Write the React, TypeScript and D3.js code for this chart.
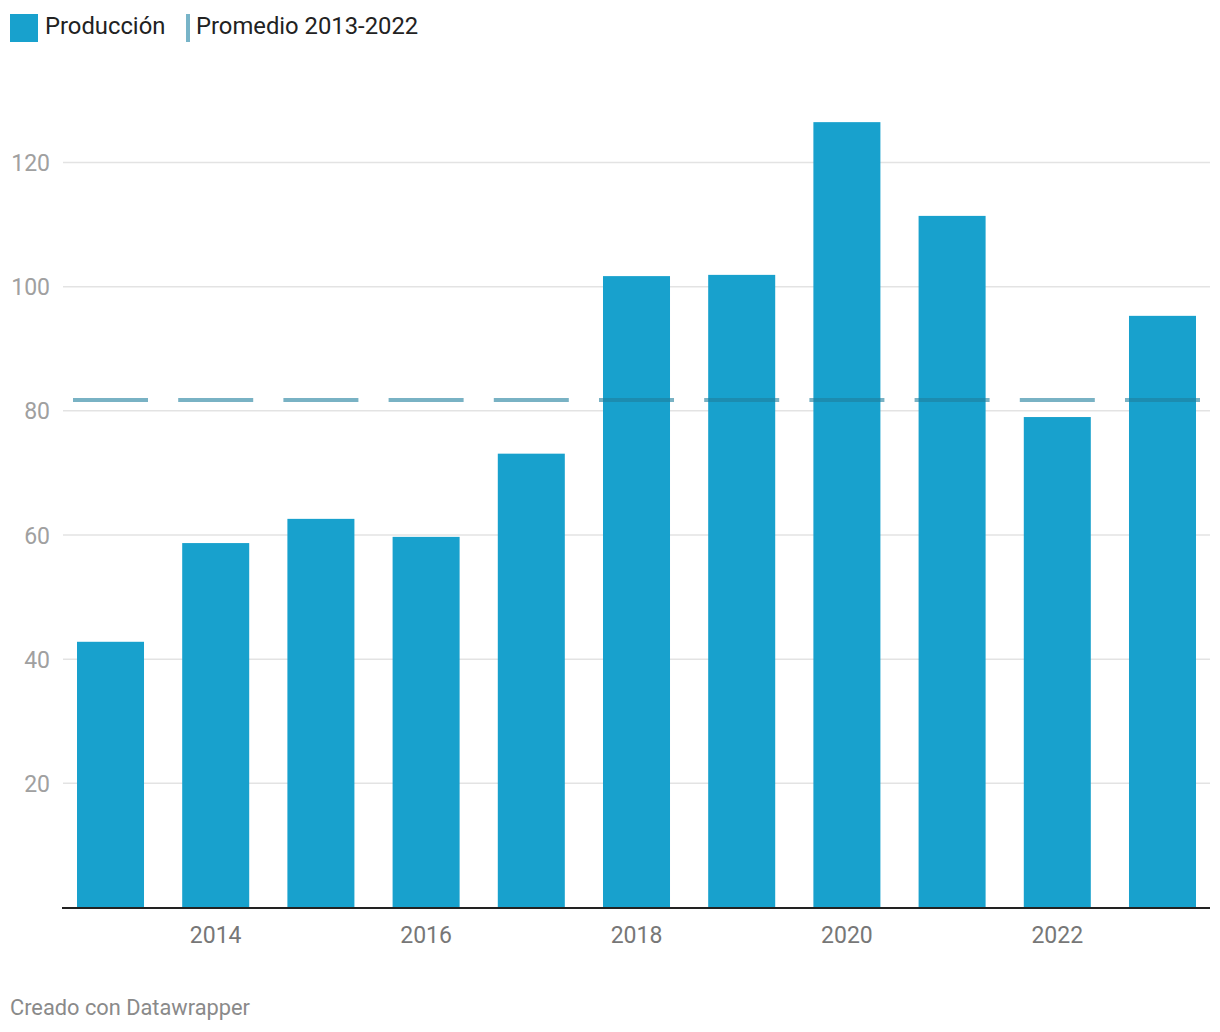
import React from "react";
import * as d3 from "d3";

const years = ["2013", "2014", "2015", "2016", "2017", "2018", "2019", "2020", "2021", "2022", "2023"];
const production = [42.8, 58.7, 62.6, 59.7, 73.1, 101.7, 101.9, 126.5, 111.4, 79.0, 95.3];
const avgYears = ["2013", "2014", "2015", "2016", "2017", "2018", "2019", "2020", "2021", "2022"];
const yTicks = [20, 40, 60, 80, 100, 120];
const xTickLabels = ["2014", "2016", "2018", "2020", "2022"];
const legendLabels = ["Producción", "Promedio 2013-2022"];
const footer = "Creado con Datawrapper";

const W = 1220;
const H = 1032;
const FONT = "Roboto, 'Noto Sans', sans-serif";
const BAR = "#18a1cd";

export default function App() {
  const x = d3.scaleBand<string>().domain(years).range([77, 1196]).paddingInner(0.363).paddingOuter(0);
  const y = d3.scaleLinear().domain([0, 120]).range([907.5, 162.5]);
  const bw = x.bandwidth();
  const step = x.step();
  const avg = d3.mean(avgYears.map((yr) => production[years.indexOf(yr)])) as number;
  const lx0 = (x(years[0]) as number) - 4;
  const lx1 = (x(years[years.length - 1]) as number) + bw + 4;
  const dash = bw + 8;

  return (
    <svg width={W} height={H} style={{ position: "absolute", left: 0, top: 0, background: "#fff" }} fontFamily={FONT}>
      {/* legend */}
      <rect x={10} y={14} width={28} height={28} fill={BAR} />
      <text x={45} y={34} fontSize={23.8} fill="#222">{legendLabels[0]}</text>
      <rect x={186} y={14} width={4} height={28} fill="#78b4c8" />
      <text x={196} y={34} fontSize={23.8} fill="#222">{legendLabels[1]}</text>

      {/* gridlines & y labels */}
      {yTicks.map((t) => (
        <g key={t}>
          <line x1={63} x2={1210} y1={y(t)} y2={y(t)} stroke="#e3e3e3" strokeWidth={1.5} />
          <text x={50} y={y(t)} dy="0.37em" textAnchor="end" fontSize={23} fill="#a0a0a0">{t}</text>
        </g>
      ))}

      {/* bars */}
      {years.map((yr, i) => (
        <rect key={yr} x={x(yr)} y={y(production[i])} width={bw} height={y(0) - y(production[i])} fill={BAR} />
      ))}

      {/* average dashed line */}
      <line
        x1={lx0}
        x2={lx1}
        y1={y(avg)}
        y2={y(avg)}
        stroke="#1f7f9d"
        strokeOpacity={0.6}
        strokeWidth={4}
        strokeDasharray={`${dash} ${step - dash}`}
      />

      {/* x axis */}
      <line x1={62} x2={1210} y1={908} y2={908} stroke="#222" strokeWidth={2} />
      {xTickLabels.map((l) => (
        <text key={l} x={(x(l) as number) + bw / 2} y={943} textAnchor="middle" fontSize={23} fill="#777">{l}</text>
      ))}

      <text x={10} y={1015} fontSize={21.8} fill="#8a8a8a">{footer}</text>
    </svg>
  );
}
